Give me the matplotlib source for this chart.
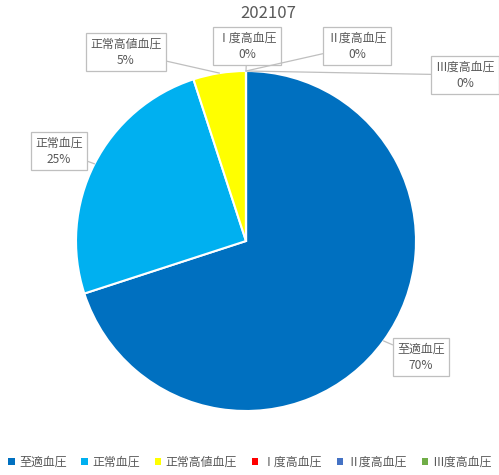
import matplotlib
matplotlib.use("Agg")
import matplotlib.pyplot as plt
import numpy as np
from matplotlib.patches import Patch

plt.rcParams['font.family'] = ['Noto Sans CJK JP', 'DejaVu Sans']

title = "202107"
categories = ["至適血圧", "正常血圧", "正常高値血圧", "Ⅰ度高血圧", "Ⅱ度高血圧", "Ⅲ度高血圧"]
shares = [70, 25, 5, 0, 0, 0]
colors = ["#0070C0", "#00B0F0", "#FFFF00", "#FF0000", "#4472C4", "#70AD47"]

# label box centres in pixels (x from left, y from top)
label_px = [(421, 357), (59, 151), (126, 52), (247, 46), (357, 46), (465, 75)]

W, H = 499, 475
cx, cy, r = 246, 241, 170

fig = plt.figure(figsize=(W / 100, H / 100), dpi=100)
ax = fig.add_axes([(cx - r) / W, (H - cy - r) / H, 2 * r / W, 2 * r / H])

wedges, _ = ax.pie(shares, colors=colors, startangle=90, counterclock=False,
                   wedgeprops=dict(edgecolor="white", linewidth=1.5))
ax.set_xlim(-1, 1)
ax.set_ylim(-1, 1)
ax.set_aspect("equal")
ax.axis("off")


def to_data(px, py):
    return (px - cx) / r, (cy - py) / r


total = sum(shares)
for w, name, val, (px, py) in zip(wedges, categories, shares, label_px):
    mid = np.deg2rad((w.theta1 + w.theta2) / 2)
    tip = (np.cos(mid), np.sin(mid))
    ax.annotate(f"{name}\n{val / total:.0%}", xy=tip, xytext=to_data(px, py),
                ha="center", va="center", fontsize=8.6, color="#595959",
                linespacing=1.35, annotation_clip=False,
                bbox=dict(boxstyle="square,pad=0.35", fc="white", ec="#BFBFBF", lw=0.9),
                arrowprops=dict(arrowstyle="-", color="#BFBFBF", lw=0.9,
                                shrinkA=0, shrinkB=0))

fig.text(268 / W, 1 - 13 / H, title, ha="center", va="center",
         fontsize=12, color="#595959")

handles = [Patch(facecolor=c, edgecolor="none") for c in colors]
fig.legend(handles, categories, loc="center", bbox_to_anchor=(250 / W, 1 - 462 / H),
           ncol=6, frameon=False, fontsize=8.6, labelcolor="#595959",
           handlelength=0.55, handleheight=0.55, handletextpad=0.35, columnspacing=1.25)

fig.savefig("out.png", dpi=100)
